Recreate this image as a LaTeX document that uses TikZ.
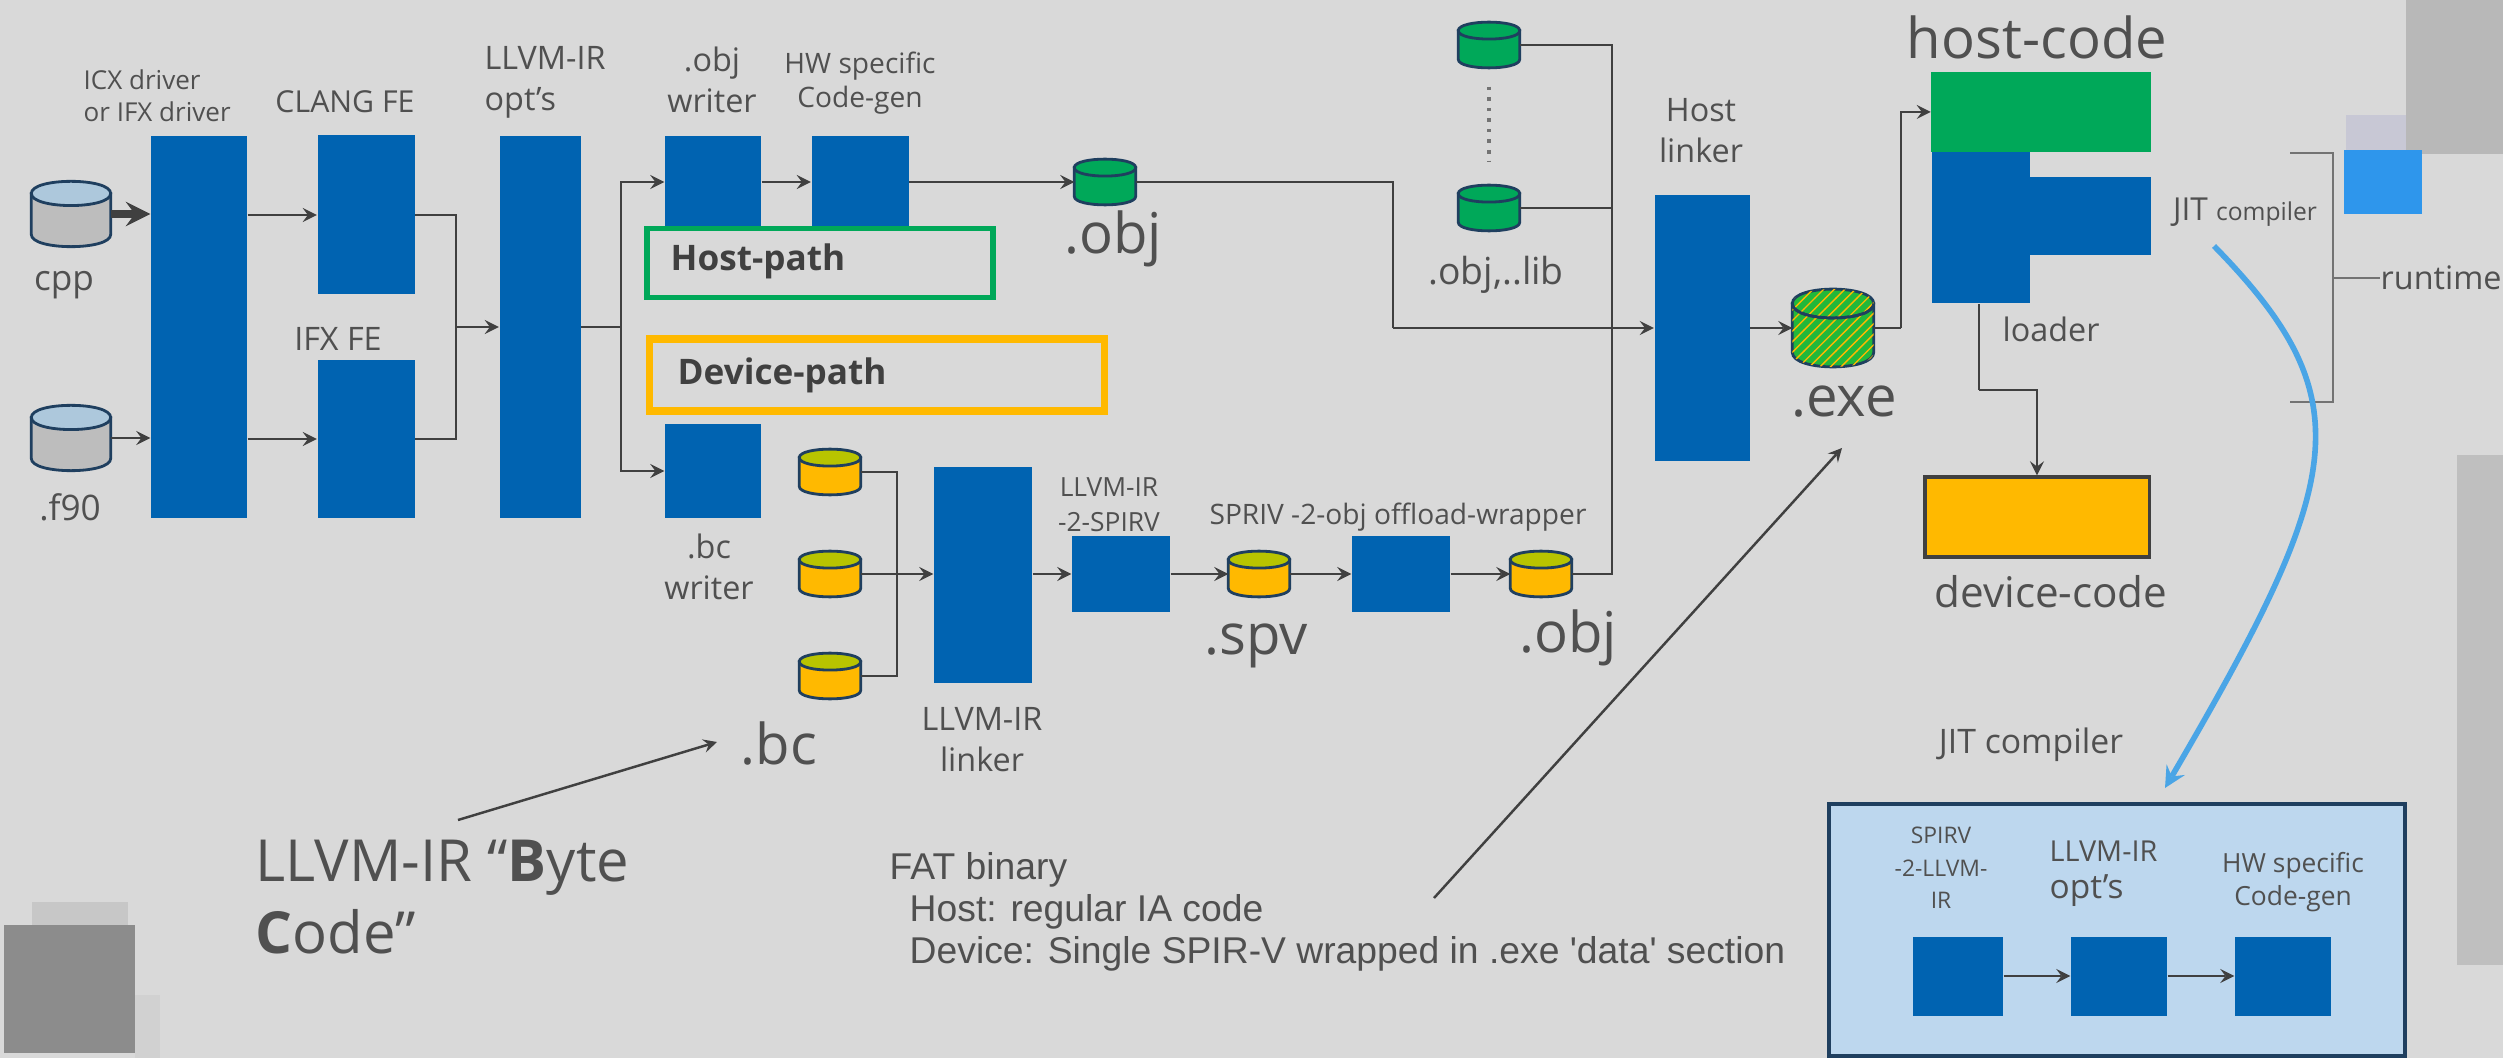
\documentclass[tikz,border=0pt]{standalone}
\usepackage{fontspec}
\setmainfont{Open Sans}
\newfontfamily\fatfont{Liberation Sans}
\usetikzlibrary{calc,patterns}
\definecolor{pagegray}{HTML}{D9D9D9}
\definecolor{blockblue}{HTML}{0063B1}
\definecolor{hostgreen}{HTML}{00A859}
\definecolor{devorange}{HTML}{FFB900}
\definecolor{devtop}{HTML}{B8C400}
\definecolor{exegreen}{HTML}{22B83A}
\definecolor{drumtop}{HTML}{ADC8DC}
\definecolor{drumbody}{HTML}{BDBDBD}
\definecolor{drumedge}{HTML}{1F3F5F}
\definecolor{linegray}{HTML}{404040}
\definecolor{labelgray}{HTML}{505050}
\definecolor{jitblue}{HTML}{4AA5E6}
\definecolor{jitfill}{HTML}{BDD7EE}
\definecolor{stubblue}{HTML}{2E96EC}
\tikzset{
  blockbox/.style 2 args={rectangle, fill=blockblue, inner sep=0pt,
    minimum width=#1*0.01cm, minimum height=#2*0.01cm},
  drum/.style 2 args={rectangle, inner sep=0pt,
    minimum width=#1*0.01cm, minimum height=#2*0.01cm},
  srcdrum/.style={drum={78}{72}},
  hostdrum/.style={drum={60}{50}},
  devdrum/.style={drum={60}{50}},
  drumline/.style={draw=drumedge, line width=0.8pt},
  pathframe/.style 2 args={rectangle, draw=#1, line width=1.6pt, inner sep=0pt,
    minimum width=#2*0.01cm},
  wire/.style={draw=linegray, line width=0.75pt},
  feed/.style={wire, ->},
  tinytext/.style={text=labelgray, inner sep=0pt, align=center, font=\fontsize{8}{9.6}\selectfont},
  smalltext/.style={text=labelgray, inner sep=0pt, align=center, font=\fontsize{9.2}{11.6}\selectfont},
  midtext/.style={text=labelgray, inner sep=0pt, font=\fontsize{10}{12}\selectfont},
  bigtext/.style={text=labelgray, inner sep=0pt, font=\fontsize{16}{18}\selectfont},
  boldtext/.style={text=linegray, inner sep=0pt, font=\fontsize{10}{12}\selectfont\bfseries}
}
\newcommand{\drumface}[3]{
  \coordinate (tl) at ($(#1.north west)!0.22!(#1.south west)$);
  \coordinate (tr) at ($(#1.north east)!0.22!(#1.south east)$);
  \coordinate (ml) at ($(#1.north west)!0.44!(#1.south west)$);
  \coordinate (mr) at ($(#1.north east)!0.44!(#1.south east)$);
  \coordinate (bl) at ($(#1.north west)!0.78!(#1.south west)$);
  \coordinate (br) at ($(#1.north east)!0.78!(#1.south east)$);
  \draw[drumline, fill=#3] (tl) -- (tr) -- (br) .. controls (#1.south east) and (#1.south west) .. (bl) -- cycle;
  \draw[drumline, fill=#2] (tl) .. controls (#1.north west) and (#1.north east) .. (tr) .. controls (mr) and (ml) .. (tl) -- cycle;
}
\begin{document}
\begin{tikzpicture}[>=stealth, x=0.01cm, y=-0.01cm]
    \useasboundingbox (0, 0) rectangle (2503, 1058);
    \fill[pagegray] (0, 0) rectangle (2503, 1058);
    \fill[black!28] (2406, 0) rectangle (2503, 154);
    \fill[black!33!blue!8!pagegray] (2346, 115) rectangle (2406, 155);
    \fill[black!25] (2457, 455) rectangle (2503, 965);
    \fill[black!22] (32, 902) rectangle (128, 925);
    \fill[black!18] (135, 995) rectangle (160, 1058);
    \fill[black!45] (4, 925) rectangle (135, 1053);
    \node (stub) [rectangle, fill=stubblue, inner sep=0pt, minimum width=0.78cm, minimum height=0.64cm] at (2383, 182) {};

    \node (cpp) [srcdrum] at (71, 214) {};
    \node (ftn) [srcdrum] at (71, 438) {};
    \node (cpplabel) [midtext] at (64, 285) {cpp};
    \node (ftnlabel) [midtext] at (70, 507) {.f90};
    \node (driver) [blockbox={96}{382}] at (199, 327) {};
    \node (driverlabel) [tinytext, anchor=west, align=left, font=\fontsize{7.4}{9}\selectfont] at (83, 96) {ICX driver\\or IFX driver};
    \node (clang) [blockbox={97}{159}] at (366, 215) {};
    \node (clanglabel) [smalltext, font=\fontsize{8.6}{11}\selectfont] at (345, 102) {CLANG FE};
    \node (ifx) [blockbox={97}{157}] at (366, 439) {};
    \node (ifxlabel) [smalltext] at (338, 339) {IFX FE};
    \node (opt) [blockbox={81}{382}] at (540, 327) {};
    \node (optlabel) [smalltext, anchor=west, align=left] at (484, 82) {LLVM-IR\\opt's};
    \node (objw) [blockbox={96}{92}] at (713, 182) {};
    \node (objwlabel) [smalltext] at (712, 80) {.obj\\writer};
    \node (hwgen) [blockbox={97}{92}] at (860, 182) {};
    \node (hwgenlabel) [tinytext] at (860, 83) {HW specific\\Code-gen};
    \node (bcw) [blockbox={96}{93}] at (713, 471) {};
    \node (bcwlabel) [smalltext] at (709, 567) {.bc\\writer};

    \node (hostframe) [pathframe={hostgreen}{346}, minimum height=0.69cm] at (820, 263) {};
    \node (hostlabel) [boldtext, anchor=west] at (670, 261) {Host-path};
    \node (devframe) [pathframe={devorange}{455}, line width=2.2pt, minimum height=0.72cm] at (877, 375) {};
    \node (devlabel) [boldtext, anchor=west] at (677, 375) {Device-path};

    \node (objout) [hostdrum] at (1105, 182) {};
    \node (objoutlabel) [bigtext] at (1113, 239) {.obj};
    \node (libone) [hostdrum] at (1489, 45) {};
    \node (libtwo) [hostdrum] at (1489, 208) {};
    \node (liblabel) [smalltext, font=\fontsize{10.6}{12}\selectfont] at (1496, 275) {.obj,..lib};
    \node (hostlink) [blockbox={95}{266}] at (1702, 328) {};
    \node (hostlinklabel) [smalltext] at (1701, 131) {Host\\linker};
    \node (exe) [drum={80}{86}] at (1833, 328) {};
    \node (exelabel) [bigtext] at (1844, 402) {.exe};

    \node (hostcode) [rectangle, fill=hostgreen, inner sep=0pt, minimum width=2.19cm, minimum height=0.79cm] at (2041, 112) {};
    \node (hostcodelabel) [text=labelgray, inner sep=0pt, font=\fontsize{16}{18}\selectfont] at (2037, 37) {host-code};
    \node (loaderbox) [blockbox={98}{151}] at (1981, 228) {};
    \node (jitstub) [blockbox={121}{78}] at (2090, 216) {};
    \node (loaderlabel) [smalltext] at (2051, 329) {loader};
    \node (devcode) [rectangle, fill=devorange, draw=linegray, line width=0.9pt, inner sep=0pt,
      minimum width=2.24cm, minimum height=0.8cm] at (2037, 517) {};
    \node (devcodelabel) [text=labelgray, inner sep=0pt, font=\fontsize{12}{14}\selectfont] at (2051, 592) {device-code};
    \node (jitlabel) [tinytext] at (2245, 212) {\fontsize{9}{10}\selectfont JIT \fontsize{7}{10}\selectfont compiler};
    \node (runtime) [smalltext, anchor=west] at (2380, 278) {runtime};

    \node (bcone) [devdrum] at (830, 472) {};
    \node (bctwo) [devdrum] at (830, 574) {};
    \node (bcthree) [devdrum] at (830, 676) {};
    \node (bclabel) [bigtext] at (779, 744) {.bc};
    \node (irlink) [blockbox={98}{215}] at (983, 575) {};
    \node (irlinklabel) [smalltext] at (982, 740) {LLVM-IR\\linker};
    \node (spirv) [blockbox={98}{76}] at (1121, 574) {};
    \node (spirvlabel) [tinytext, font=\fontsize{7.5}{10}\selectfont] at (1109, 505) {LLVM-IR\\-2-SPIRV};
    \node (spv) [devdrum] at (1259, 574) {};
    \node (spvlabel) [bigtext] at (1256, 646) {.spv};
    \node (wrap) [blockbox={98}{76}] at (1401, 574) {};
    \node (wraplabel) [tinytext] at (1398, 517) {SPRIV -2-obj offload-wrapper};
    \node (objdev) [devdrum] at (1541, 574) {};
    \node (objdevlabel) [bigtext] at (1568, 638) {.obj};

    \node (bytelabel) [text=labelgray, inner sep=0pt, anchor=west, align=left,
      font=\fontsize{16.5}{20.4}\selectfont] at (255, 897) {LLVM-IR ``\textbf{B}yte\\\textbf{C}ode''};
    \node (fatlabel) [text=labelgray, inner sep=0pt, anchor=west, align=left,
      font=\fatfont\fontsize{10.6}{12}\selectfont] at (889, 912) {FAT binary\\\hspace*{0.2cm}Host: regular IA code\\\hspace*{0.2cm}Device: Single SPIR-V wrapped in .exe 'data' section};

    \node (jitbox) [rectangle, fill=jitfill, draw=drumedge, line width=1.1pt, inner sep=0pt,
      minimum width=5.76cm, minimum height=2.51cm] at (2117, 930) {};
    \node (jittitle) [smalltext, font=\fontsize{9.6}{11}\selectfont] at (2031, 745) {JIT compiler};
    \node (jitone) [blockbox={90}{79}] at (1958, 976) {};
    \node (jittwo) [blockbox={96}{79}] at (2119, 976) {};
    \node (jitthree) [blockbox={96}{79}] at (2283, 976) {};
    \node (jitonelabel) [text=labelgray, inner sep=0pt, align=center, font=\fontsize{6.5}{9.3}\selectfont] at (1941, 868) {SPIRV\\-2-LLVM-\\IR};
    \node (jittwolabel) [smalltext, anchor=west, align=left, font=\fontsize{9.5}{10.5}\selectfont] at (2049, 874) {{\fontsize{8.2}{9}\selectfont LLVM-IR}\\opt's};
    \node (jitthreelabel) [tinytext, font=\fontsize{7.5}{9.6}\selectfont] at (2293, 882) {HW specific\\Code-gen};

    \coordinate (optfork) at (621, 327);
    \coordinate (bcbus) at (897, 574);
    \coordinate (frontbus) at (456, 327);
    \coordinate (hostturn) at (1393, 328);
    \coordinate (libbus) at (1612, 328);
    \coordinate (exeturn) at (1901, 328);
    \coordinate (loaderstep) at (1979, 390);
    \coordinate (bracetop) at (2290, 153);
    \coordinate (bracebot) at (2290, 402);
    \coordinate (bracemid) at (2333, 278);
    \coordinate (jitfrom) at (2214, 246);
    \coordinate (jitto) at (2165, 788);
    \coordinate (bytefrom) at (458, 820);
    \coordinate (byteto) at (717, 742);
    \coordinate (fatfrom) at (1434, 898);
    \coordinate (fatto) at (1842, 448);

    \foreach \drumname in {cpp, ftn}
      \drumface{\drumname}{drumtop}{drumbody};
    \foreach \drumname in {objout, libone, libtwo}
      \drumface{\drumname}{hostgreen}{hostgreen};
    \foreach \drumname in {bcone, bctwo, bcthree, spv, objdev}
      \drumface{\drumname}{devtop}{devorange};
    \drumface{exe}{exegreen}{exegreen};
    \fill[pattern=north east lines, pattern color=devorange] (tl) .. controls (exe.north west) and (exe.north east) .. (tr) -- (br) .. controls (exe.south east) and (exe.south west) .. (bl) -- cycle;
    \draw[drumline] (tl) .. controls (ml) and (mr) .. (tr);

    \draw[feed, line width=2pt] (cpp.east) -- (cpp -| driver.west);
    \draw[feed] (ftn.east) -- (ftn -| driver.west);
    \draw[feed] (clang -| driver.east) -- (clang.west);
    \draw[feed] (ifx -| driver.east) -- (ifx.west);
    \draw[wire] (clang.east) -| (frontbus) |- (ifx.east);
    \draw[feed] (frontbus) -- (opt.west);
    \draw[wire] (opt.east) -- (optfork);
    \draw[feed] (optfork) |- (objw.west);
    \draw[feed] (optfork) |- (bcw.west);
    \draw[feed] (objw.east) -- (hwgen.west);
    \draw[feed] (hwgen.east) -- (objout.west);
    \draw[wire] (objout.east) -| (hostturn);
    \draw[feed] (hostturn) -- (hostlink.west);
    \draw[dotted, draw=black!55, line width=1pt] (libone.south) ++(0, 16) -- ([yshift=0.2cm]libtwo.north);
    \draw[wire] (libone.east) -| (libbus);
    \draw[wire] (libtwo.east) -- (libtwo -| libbus);
    \draw[wire] (objdev.east) -| (libbus);
    \draw[feed] (hostlink.east |- exe) -- (exe.west);
    \draw[wire] (exe.east) -- (exeturn);
    \draw[feed] (exeturn) |- (hostcode.west);
    \draw[wire] (bcone.east) -| (bcbus);
    \draw[wire] (bcthree.east) -| (bcbus);
    \draw[feed] (bctwo.east) -- (irlink.west |- bctwo);
    \draw[feed] (irlink.east |- spirv) -- (spirv.west);
    \draw[feed] (spirv.east) -- (spv.west);
    \draw[feed] (spv.east) -- (wrap.west);
    \draw[feed] (wrap.east) -- (objdev.west);
    \draw[wire] (loaderbox.south -| loaderstep) -- (loaderstep);
    \draw[feed] (loaderstep) -| (devcode.north);
    \draw[draw=black!55, line width=0.7pt] (bracetop) -| (bracemid) |- (bracebot);
    \draw[draw=black!55, line width=0.7pt] (bracemid) -- (runtime.west);
    \draw[->, draw=linegray, line width=0.7pt] (bytefrom) -- (byteto);
    \draw[->, draw=linegray, line width=0.7pt] (fatfrom) -- (fatto);
    \draw[->, draw=jitblue, line width=1.6pt] (jitfrom) .. controls (2365, 400) and (2345, 480) .. (jitto);
    \draw[feed] (jitone.east) -- (jittwo.west);
    \draw[feed] (jittwo.east) -- (jitthree.west);
  \end{tikzpicture}
\end{document}
